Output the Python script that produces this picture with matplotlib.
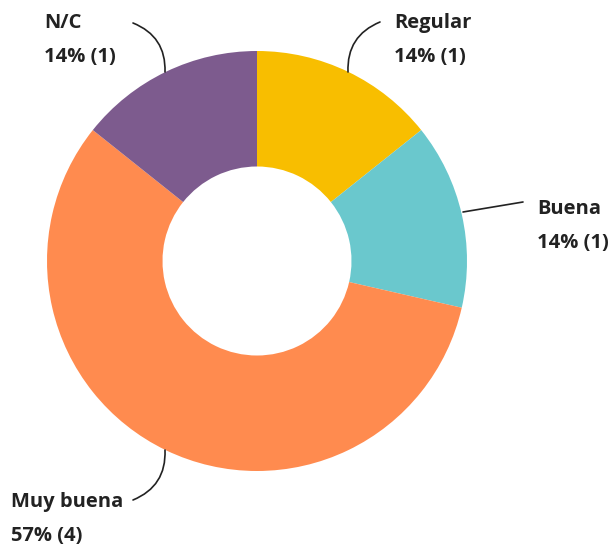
import matplotlib
matplotlib.use("Agg")
import matplotlib.pyplot as plt

categories = ["Regular", "Buena", "Muy buena", "N/C"]
counts = [1, 1, 4, 1]
percents = ["14%", "14%", "57%", "14%"]
colors = ["#F8BE00", "#6AC8CD", "#FF8B4F", "#7D5B8E"]

W, H = 615, 546
fig = plt.figure(figsize=(W / 100, H / 100), dpi=100)
ax = fig.add_axes([0, 0, 1, 1])

cx, cy, R = 257, H - 261, 210
ax.pie(counts, colors=colors, startangle=90, counterclock=False,
       center=(cx, cy), radius=R, frame=True,
       wedgeprops=dict(width=R * 0.55, edgecolor="none"))
ax.set_xlim(0, W)
ax.set_ylim(0, H)
ax.set_aspect("equal")
ax.axis("off")

font = dict(family=["Open Sans", "DejaVu Sans"], fontsize=14.5, fontweight="bold",
            color="#222222", linespacing=1.95)

label_specs = {
    "N/C": dict(tx=44, ty=40, ha="left", start=(133, 23), end=(165, 72), rad=-0.35),
    "Regular": dict(tx=394, ty=40, ha="left", start=(380, 22), end=(348, 72), rad=0.35),
    "Buena": dict(tx=537, ty=226, ha="left", start=(523, 202), end=(463, 212), rad=0.0),
    "Muy buena": dict(tx=11, ty=519, ha="left", start=(133, 500), end=(165, 450), rad=0.35),
}

for cat, n, p in zip(categories, counts, percents):
    s = label_specs[cat]
    ax.text(s["tx"], H - s["ty"], f"{cat}\n{p} ({n})", ha=s["ha"], va="center", **font)
    ax.annotate("", xy=(s["end"][0], H - s["end"][1]),
                xytext=(s["start"][0], H - s["start"][1]),
                arrowprops=dict(arrowstyle="-", color="#222222", lw=1.2,
                                connectionstyle=f"arc3,rad={s['rad']}",
                                shrinkA=0, shrinkB=0))

fig.savefig("out.png", dpi=100, facecolor="white")
